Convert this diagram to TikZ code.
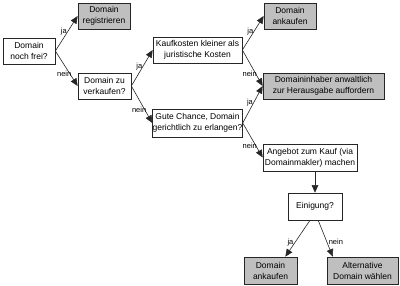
\documentclass[tikz,border=0pt]{standalone}
\usepackage{fontspec}
\setmainfont{Liberation Sans}
\usetikzlibrary{arrows.meta}
\begin{document}
\begin{tikzpicture}[x=1pt,y=-1pt,
  box/.style={draw=black!85, line width=0.7pt, fill=white, align=center, inner sep=0pt,
    font=\fontsize{8.5}{11}\selectfont},
  greybox/.style={box, fill=gray!50},
  conn/.style={-{Triangle[length=7.5pt,width=6.5pt]}, line width=0.6pt, draw=black!85},
  lab/.style={font=\fontsize{7.5}{9}\selectfont, inner sep=0.5pt}]
\useasboundingbox[fill=white] (0,0) rectangle (400,286);

\node[box, minimum width=52pt, minimum height=26pt] (A) at (29,51) {Domain\\noch frei?};
\node[greybox, minimum width=52pt, minimum height=26pt] (B) at (104,16) {Domain\\registrieren};
\node[box, minimum width=53pt, minimum height=26pt] (C) at (104.5,86) {Domain zu\\verkaufen?};
\node[box, minimum width=89pt, minimum height=26pt] (D) at (197.5,50) {Kaufkosten kleiner als\\juristische Kosten};
\node[greybox, minimum width=52pt, minimum height=26pt] (E) at (290,16) {Domain\\ankaufen};
\node[greybox, minimum width=121pt, minimum height=26pt] (F) at (323.5,86) {Domaininhaber anwaltlich\\zur Herausgabe auffordern};
\node[box, minimum width=89pt, minimum height=28pt] (G) at (197.5,123) {Gute Chance, Domain\\gerichtlich zu erlangen?};
\node[box, minimum width=94pt, minimum height=27pt] (H) at (310,157.5) {Angebot zum Kauf (via\\Domainmakler) machen};
\node[box, minimum width=54pt, minimum height=27pt] (I) at (315,206.5) {Einigung?};
\node[greybox, minimum width=53pt, minimum height=27pt] (J) at (270.5,270.5) {Domain\\ankaufen};
\node[greybox, minimum width=71pt, minimum height=27pt] (K) at (362.5,270.5) {Alternative\\Domain wählen};

\draw[conn] (A.east) -- node[lab, pos=0.55, anchor=east] {ja} (B.west);
\draw[conn] (A.east) -- node[lab, pos=0.75, anchor=south east] {nein} (C.west);
\draw[conn] (C.east) -- node[lab, pos=0.55, anchor=east] {ja} (D.west);
\draw[conn] (C.east) -- node[lab, pos=0.75, anchor=south east] {nein} (G.west);
\draw[conn] (D.east) -- node[lab, pos=0.55, anchor=east] {ja} (E.west);
\draw[conn] (D.east) -- node[lab, pos=0.75, anchor=south east] {nein} (F.west);
\draw[conn] (G.east) -- node[lab, pos=0.55, anchor=east] {ja} (F.west);
\draw[conn] (G.east) -- node[lab, pos=0.75, anchor=south east] {nein} (H.west);
\draw[conn] (H.south -| I.north) -- (I.north);
\draw[conn] (I.250) -- node[lab, pos=0.6, anchor=east, xshift=-1pt] {ja} (J.43);
\draw[conn] (I.283) -- node[lab, pos=0.6, anchor=west, xshift=1pt] {nein} (K.155);
\end{tikzpicture}
\end{document}
